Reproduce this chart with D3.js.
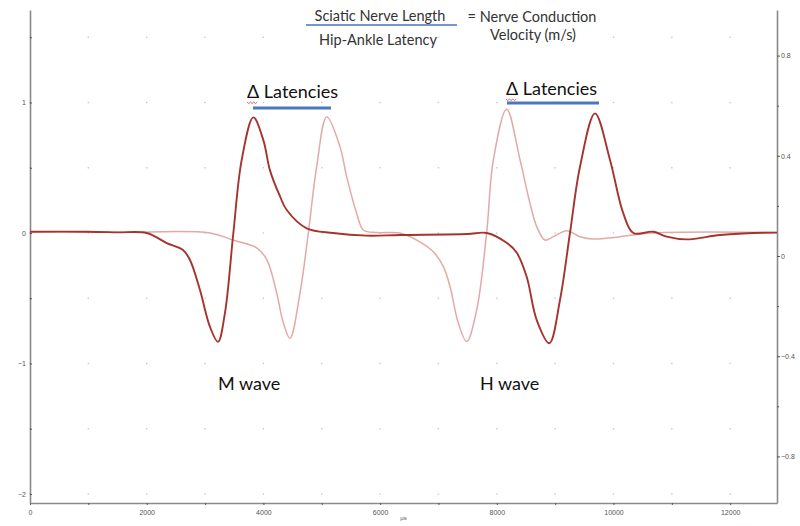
<!DOCTYPE html>
<html><head><meta charset="utf-8">
<script src="https://cdn.jsdelivr.net/npm/d3@7"></script>
<style>body{margin:0;background:#fff}</style>
</head><body>
<svg id="c" width="800" height="526"></svg>
<script>
// time (µs) of samples, values (left axis units)
const darkTime = [0,1000,1500,2000,2343,2622,2742,2913,3085,3222,3342,3485,3628,3828,4000,4113,4285,4400,4742,5195,5770,6340,7490,7830,8175,8340,8512,8684,8900,9083,9254,9426,9683,9940,10168,10340,10683,10911,11254,11825,12391,12802];
const darkValue = [0.01,0.01,0.005,0,-0.077,-0.13,-0.207,-0.437,-0.72,-0.834,-0.61,0,0.56,0.886,0.71,0.48,0.28,0.176,0.036,0,-0.02,-0.015,-0.008,0,-0.077,-0.15,-0.335,-0.667,-0.845,-0.513,0,0.508,0.917,0.56,0.15,0,0.01,-0.028,-0.049,-0.015,0,0.003];
const lightTime = [0,1500,3085,3479,3890,4062,4228,4342,4456,4627,4770,4913,5085,5313,5428,5599,5713,5942,6341,6627,6912,7084,7198,7341,7484,7655,7826,7941,8169,8398,8569,8684,8826,8969,9198,9426,9654,10111,10683,12802];
const lightValue = [0.01,0.005,0,-0.054,-0.115,-0.207,-0.46,-0.69,-0.807,-0.46,0,0.508,0.89,0.66,0.43,0.15,0.023,0.003,0,-0.054,-0.143,-0.258,-0.41,-0.69,-0.832,-0.59,0,0.56,0.948,0.56,0.227,0.049,-0.054,-0.028,0.018,-0.028,-0.046,-0.028,0,0.003];
const xTicks = [0,2000,4000,6000,8000,10000,12000];
const xMinor = [1000,3000,5000,7000,9000,11000];
const leftTicks = [1,0,-1,-2];
const leftMinor = [1.5,0.5,-0.5,-1.5];
const rightTicks = [0.8,0.4,0,-0.4,-0.8];
const rightMinor = [0.6,0.2,-0.2,-0.6];

const svg = d3.select("#c");
const L=30, R=777, T=10, B=503;
const x = d3.scaleLinear().domain([0,12802]).range([L,R]);
const y = d3.scaleLinear().domain([-2.069,1.709]).range([B,T]);
const y2 = d3.scaleLinear().domain([-0.986,0.982]).range([B,T]);
const axisCol="#8a8a8a";

// grid dots
const gx = xTicks.concat(xMinor), gy = leftTicks.concat(leftMinor);
gx.forEach(a=>gy.forEach(b=>{
  svg.append("rect").attr("x",x(a)-0.7).attr("y",y(b)-0.7).attr("width",1.4).attr("height",1.4).attr("fill","#c8c8c8");
}));

// axes
function styleAx(g){g.selectAll("path").attr("stroke",axisCol).attr("stroke-width",1.6);
  g.selectAll("line").attr("stroke","#555").attr("stroke-width",1);
  g.selectAll("text").attr("font-family","Arial, Liberation Sans, sans-serif").attr("font-size",7).attr("fill","#555");}
const gB = svg.append("g").attr("transform",`translate(0,${B})`)
  .call(d3.axisBottom(x).tickValues(xTicks).tickSize(2).tickSizeOuter(0).tickPadding(5).tickFormat(d3.format("d")));
styleAx(gB);
svg.append("g").attr("transform",`translate(0,${B})`)
  .call(d3.axisBottom(x).tickValues(xMinor).tickSize(2).tickFormat("")).call(g=>{g.select("path").remove();g.selectAll("line").attr("stroke","#555");});
const gL = svg.append("g").attr("transform",`translate(${L},0)`)
  .call(d3.axisRight(y).tickValues(leftTicks).tickSize(2).tickSizeOuter(0).tickFormat(d3.format("d")));
styleAx(gL);
gL.selectAll("text").attr("x",-4).attr("text-anchor","end");
svg.append("g").attr("transform",`translate(${L},0)`)
  .call(d3.axisRight(y).tickValues(leftMinor).tickSize(2).tickFormat("")).call(g=>{g.select("path").remove();g.selectAll("line").attr("stroke","#555");});
const gR = svg.append("g").attr("transform",`translate(${R},0)`)
  .call(d3.axisRight(y2).tickValues(rightTicks).tickSize(3).tickSizeOuter(0).tickPadding(1).tickFormat(d=>d===0?"0":d3.format(".1f")(d).replace("-","\u2212")));
styleAx(gR);
svg.append("g").attr("transform",`translate(${R},0)`)
  .call(d3.axisRight(y2).tickValues(rightMinor).tickSize(2).tickFormat("")).call(g=>{g.select("path").remove();g.selectAll("line").attr("stroke","#555");});
svg.append("text").attr("x",x(6400)).attr("y",520).attr("font-family","Arial, sans-serif").attr("font-size",6).attr("fill","#555").attr("text-anchor","middle").text("µs");

// traces
const line = d3.line().x(d=>x(d[0])).y(d=>y(d[1])).curve(d3.curveCatmullRom.alpha(0.5));
const lightData = lightTime.map((t,i)=>[t,lightValue[i]]);
const darkData = darkTime.map((t,i)=>[t,darkValue[i]]);
svg.append("path").datum(lightData).attr("d",line).attr("fill","none").attr("stroke","#e2aaa6").attr("stroke-width",1.5);
svg.append("path").datum(darkData).attr("d",line).attr("fill","none").attr("stroke","#a5342e").attr("stroke-width",1.9);

// annotations
const fam = "Lato, 'Open Sans', sans-serif";
function txt(xx,yy,s,size,anchor,col){svg.append("text").attr("x",xx).attr("y",yy).attr("font-family",fam).attr("font-size",size).attr("fill",col||"#222").attr("text-anchor",anchor||"start").text(s);}
txt(380,21,"Sciatic Nerve Length",14.5,"middle","#333");
svg.append("line").attr("x1",306).attr("x2",457).attr("y1",25).attr("y2",25).attr("stroke","#7596cf").attr("stroke-width",2);
txt(378,45,"Hip-Ankle Latency",14.5,"middle","#333");
txt(532,22,"= Nerve Conduction",14.5,"middle","#333");
txt(533,40,"Velocity (m/s)",14.5,"middle","#333");

function delta(x0,yb,x1,x2,yl){
  txt(x0,yb,"\u0394 Latencies",18,"start","#111");
  svg.append("line").attr("x1",x1).attr("x2",x2).attr("y1",yl).attr("y2",yl).attr("stroke","#4a78c0").attr("stroke-width",3);
  const p=d3.path(); p.moveTo(x0,yb+4); for(let i=1;i<=6;i++){p.lineTo(x0+i*1.7,yb+4+(i%2?1.6:0));}
  svg.append("path").attr("d",p.toString()).attr("fill","none").attr("stroke","#d23c3c").attr("stroke-width",0.8);
}
delta(247,98,253,331,108);
delta(506,95,507,599,103);
txt(218,390,"M wave",18,"start","#111");
txt(480,390,"H wave",18,"start","#111");
</script>
</body></html>
